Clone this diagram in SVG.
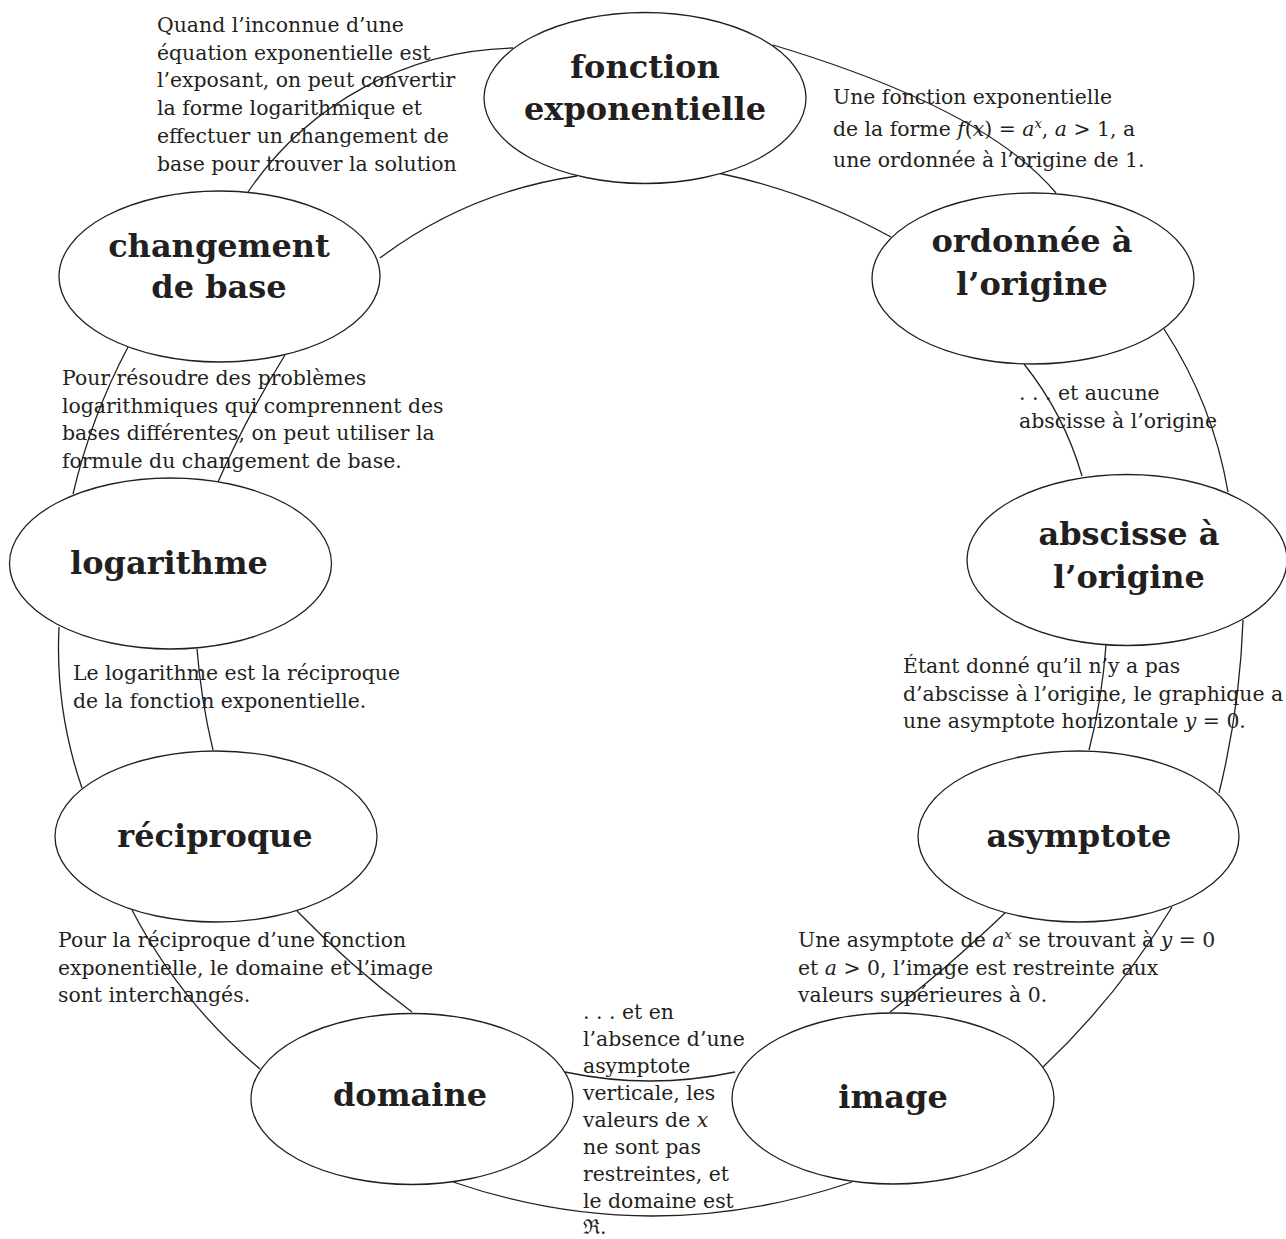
<svg xmlns="http://www.w3.org/2000/svg" width="1286" height="1239" viewBox="0 0 1286 1239">
<style>
.bg{fill:#ffffff}
.node{fill:#ffffff;stroke:#231f20;stroke-width:1.3}
.lbl{font-family:"DejaVu Serif","Liberation Serif",serif;font-weight:bold;font-size:32px;fill:#231f20;text-anchor:middle}
.txt{font-family:"DejaVu Serif","Liberation Serif",serif;font-size:20.4px;fill:#231f20}
.it{font-style:italic}
.con{fill:none;stroke:#231f20;stroke-width:1.3}
</style>
<rect class="bg" x="0" y="0" width="1286" height="1239"/>

<g id="edge-labels">
  <text id="t-changement-fonction" class="txt" x="157" y="32">
    <tspan x="157" y="32">Quand l’inconnue d’une</tspan>
    <tspan x="157" y="59.7">équation exponentielle est</tspan>
    <tspan x="157" y="87.4">l’exposant, on peut convertir</tspan>
    <tspan x="157" y="115.1">la forme logarithmique et</tspan>
    <tspan x="157" y="142.8">effectuer un changement de</tspan>
    <tspan x="157" y="170.5">base pour trouver la solution</tspan>
  </text>
  <text id="t-fonction-ordonnee" class="txt" x="833" y="104">
    <tspan x="833" y="104">Une fonction exponentielle</tspan>
    <tspan x="833" y="136">de la forme <tspan class="it">f</tspan>(<tspan class="it">x</tspan>) = <tspan class="it">a</tspan><tspan class="it" font-size="13" dy="-8">x</tspan><tspan dy="8">, </tspan><tspan class="it">a</tspan> &gt; 1, a</tspan>
    <tspan x="833" y="167">une ordonnée à l’origine de 1.</tspan>
  </text>
  <text id="t-changement-logarithme" class="txt" x="62" y="385">
    <tspan x="62" y="385">Pour résoudre des problèmes</tspan>
    <tspan x="62" y="412.7">logarithmiques qui comprennent des</tspan>
    <tspan x="62" y="440.4">bases différentes, on peut utiliser la</tspan>
    <tspan x="62" y="468.1">formule du changement de base.</tspan>
  </text>
  <text id="t-logarithme-reciproque" class="txt" x="73" y="680">
    <tspan x="73" y="680">Le logarithme est la réciproque</tspan>
    <tspan x="73" y="707.5">de la fonction exponentielle.</tspan>
  </text>
  <text id="t-ordonnee-abscisse" class="txt" x="1019" y="400">
    <tspan x="1019" y="400">. . . et aucune</tspan>
    <tspan x="1019" y="428">abscisse à l’origine</tspan>
  </text>
  <text id="t-abscisse-asymptote" class="txt" x="903" y="673">
    <tspan x="903" y="673">Étant donné qu’il n’y a pas</tspan>
    <tspan x="903" y="700.7">d’abscisse à l’origine, le graphique a</tspan>
    <tspan x="903" y="728.4">une asymptote horizontale <tspan class="it">y</tspan> = 0.</tspan>
  </text>
  <text id="t-asymptote-image" class="txt" x="798" y="947">
    <tspan x="798" y="947">Une asymptote de <tspan class="it">a</tspan><tspan class="it" font-size="13" dy="-8">x</tspan><tspan dy="8"> se trouvant à </tspan><tspan class="it">y</tspan> = 0</tspan>
    <tspan x="798" y="974.7">et <tspan class="it">a</tspan> &gt; 0, l’image est restreinte aux</tspan>
    <tspan x="798" y="1002.4">valeurs supérieures à 0.</tspan>
  </text>
  <text id="t-reciproque-domaine" class="txt" x="58" y="947">
    <tspan x="58" y="947">Pour la réciproque d’une fonction</tspan>
    <tspan x="58" y="974.7">exponentielle, le domaine et l’image</tspan>
    <tspan x="58" y="1002.4">sont interchangés.</tspan>
  </text>
  <text id="t-domaine-image" class="txt" x="583" y="1019">
    <tspan x="583" y="1019">. . . et en</tspan>
    <tspan x="583" y="1046">l’absence d’une</tspan>
    <tspan x="583" y="1073">asymptote</tspan>
    <tspan x="583" y="1100">verticale, les</tspan>
    <tspan x="583" y="1127">valeurs de <tspan class="it">x</tspan></tspan>
    <tspan x="583" y="1154">ne sont pas</tspan>
    <tspan x="583" y="1181">restreintes, et</tspan>
    <tspan x="583" y="1208">le domaine est</tspan>
    <tspan x="583" y="1233.5">ℜ.</tspan>
  </text>
</g>

<g id="connectors">
  <path class="con" d="M248,192 A329,329 0 0 1 513,48"/>
  <path class="con" d="M380,258 Q468,192 577,176"/>
  <path class="con" d="M773,45 Q986,109 1056,193"/>
  <path class="con" d="M718,173 Q809,192 891,237"/>
  <path class="con" d="M1024,364 Q1064,414 1082,476"/>
  <path class="con" d="M1164,329 Q1213,404 1228,492"/>
  <path class="con" d="M1106,645 Q1102,700 1089,750"/>
  <path class="con" d="M1243,620 Q1240,708 1219,793"/>
  <path class="con" d="M1005,913 Q945,970 890,1012"/>
  <path class="con" d="M1172,907 Q1118,996 1043,1067"/>
  <path class="con" d="M565,1072 Q650,1090 735,1072"/>
  <path class="con" d="M453,1182 Q652,1250 852,1182"/>
  <path class="con" d="M132,910 Q180,1002 260,1069"/>
  <path class="con" d="M297,911 Q350,966 412,1012"/>
  <path class="con" d="M59,627 Q55,710 82,788"/>
  <path class="con" d="M197,649 Q201,700 213,750"/>
  <path class="con" d="M128,347 Q91,417 73,494"/>
  <path class="con" d="M285,355 Q247,416 218,482"/>
</g>

<g id="node-fonction">
  <ellipse class="node" cx="645" cy="98" rx="161" ry="85.5"/>
  <text class="lbl" x="645" y="78">fonction</text>
  <text class="lbl" x="645" y="120">exponentielle</text>
</g>
<g id="node-ordonnee">
  <ellipse class="node" cx="1033" cy="278.5" rx="161" ry="85.5"/>
  <text class="lbl" x="1032" y="252">ordonnée à</text>
  <text class="lbl" x="1032" y="295">l’origine</text>
</g>
<g id="node-abscisse">
  <ellipse class="node" cx="1127" cy="560" rx="160" ry="85.5"/>
  <text class="lbl" x="1129" y="545">abscisse à</text>
  <text class="lbl" x="1129" y="588">l’origine</text>
</g>
<g id="node-asymptote">
  <ellipse class="node" cx="1078.5" cy="836.5" rx="160.5" ry="85.5"/>
  <text class="lbl" x="1079" y="847">asymptote</text>
</g>
<g id="node-image">
  <ellipse class="node" cx="893" cy="1098.5" rx="161" ry="85.5"/>
  <text class="lbl" x="893" y="1108">image</text>
</g>
<g id="node-domaine">
  <ellipse class="node" cx="412" cy="1099" rx="161" ry="85.5"/>
  <text class="lbl" x="410" y="1106">domaine</text>
</g>
<g id="node-reciproque">
  <ellipse class="node" cx="216" cy="836.5" rx="161" ry="85.5"/>
  <text class="lbl" x="215" y="847">réciproque</text>
</g>
<g id="node-logarithme">
  <ellipse class="node" cx="170.5" cy="563.5" rx="161" ry="85.5"/>
  <text class="lbl" x="169" y="574">logarithme</text>
</g>
<g id="node-changement">
  <ellipse class="node" cx="219.5" cy="276.5" rx="160.5" ry="85.5"/>
  <text class="lbl" x="219" y="257">changement</text>
  <text class="lbl" x="219" y="298">de base</text>
</g>
</svg>
